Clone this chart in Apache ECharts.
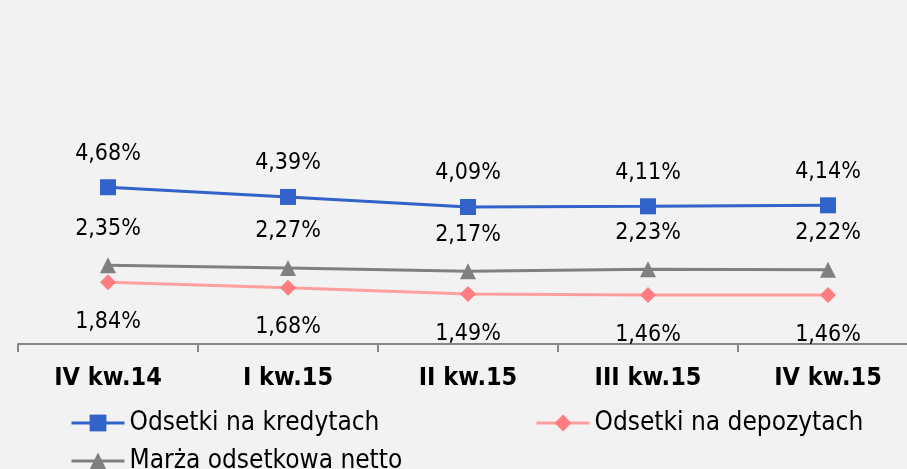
<!DOCTYPE html>
<html>
<head>
<meta charset="utf-8">
<script src="https://cdn.jsdelivr.net/npm/echarts@6/dist/echarts.min.js"></script>
<style>
  html, body { margin: 0; padding: 0; background: #f2f2f2; }
  #chart { width: 907px; height: 469px; }
</style>
</head>
<body>
<div id="chart"></div>
<script>
// kwartały
const categories = ["IV kw.14", "I kw.15", "II kw.15", "III kw.15", "IV kw.15"];
// wartości w %
const kredyty = [4.68, 4.39, 4.09, 4.11, 4.14];
const depozyty = [1.84, 1.68, 1.49, 1.46, 1.46];
const marza = [2.35, 2.27, 2.17, 2.23, 2.22];

const fmt = (p) => p.value.toFixed(2).replace(".", ",") + "%";
const font = "'DejaVu Sans Condensed', 'DejaVu Sans'";

const chart = echarts.init(document.getElementById("chart"));

const legendText = { fontSize: 26, color: "#000", fontFamily: font };

function legendFor(name, left, top) {
  return {
    data: [name],
    left: left,
    top: top,
    padding: 0,
    itemWidth: 53,
    itemHeight: 21,
    lineStyle: { width: 3 },
    textStyle: legendText,
  };
}

const option = {
  backgroundColor: "#f2f2f2",
  animation: false,
  textStyle: { fontFamily: font },
  grid: { left: 18, width: 900, top: 9, height: 335, outerBoundsMode: "none" },
  xAxis: {
    type: "category",
    data: categories,
    boundaryGap: true,
    axisLine: { lineStyle: { color: "#868686", width: 2 } },
    axisTick: { show: true, length: 8, lineStyle: { color: "#868686", width: 2 } },
    axisLabel: {
      color: "#000",
      fontFamily: font,
      fontWeight: "bold",
      fontSize: 25,
      margin: 22,
    },
  },
  yAxis: {
    type: "value",
    min: 0,
    max: 10,
    show: false,
    splitLine: { show: false },
  },
  legend: [
    legendFor("Odsetki na kredytach", 70, 410),
    legendFor("Odsetki na depozytach", 535, 410),
    legendFor("Marża odsetkowa netto", 70, 448),
  ],
  series: [
    {
      name: "Odsetki na kredytach",
      type: "line",
      data: kredyty,
      symbol: "rect",
      symbolSize: 16,
      itemStyle: { color: "#3163cb" },
      lineStyle: { color: "#3163cb", width: 3 },
      label: {
        show: true,
        position: "top",
        distance: 14,
        formatter: fmt,
        fontSize: 23,
        color: "#000",
        fontFamily: font,
      },
    },
    {
      name: "Odsetki na depozytach",
      type: "line",
      data: depozyty,
      symbol: "diamond",
      symbolSize: 16,
      itemStyle: { color: "#ff7c80" },
      lineStyle: { color: "#ff9e9e", width: 3 },
      label: {
        show: true,
        position: "bottom",
        distance: 20,
        formatter: fmt,
        fontSize: 23,
        color: "#000",
        fontFamily: font,
      },
    },
    {
      name: "Marża odsetkowa netto",
      type: "line",
      data: marza,
      symbol: "triangle",
      symbolSize: 16,
      itemStyle: { color: "#808080" },
      lineStyle: { color: "#808080", width: 3 },
      label: {
        show: true,
        position: "top",
        distance: 17,
        formatter: fmt,
        fontSize: 23,
        color: "#000",
        fontFamily: font,
      },
    },
  ],
};

chart.setOption(option);
</script>
</body>
</html>
